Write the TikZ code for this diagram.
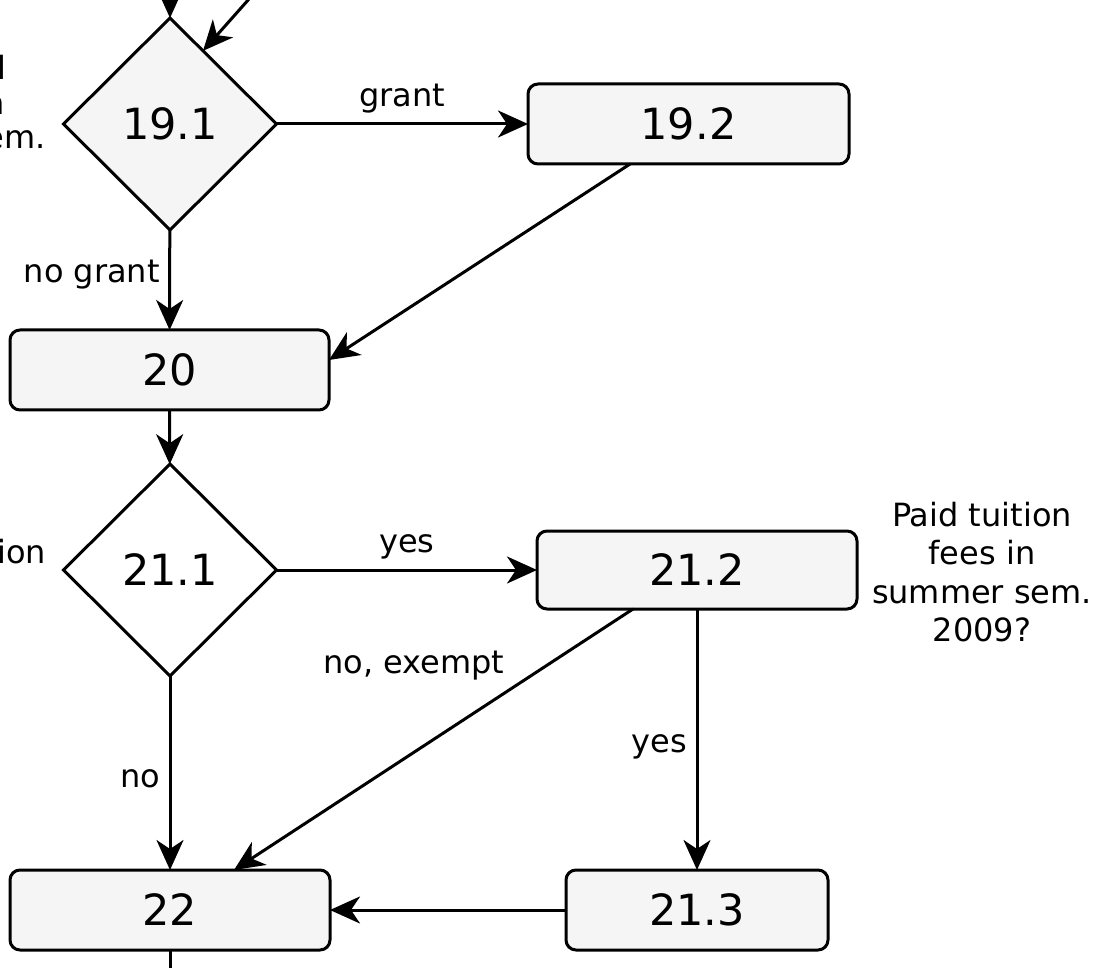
\documentclass[tikz,border=0pt]{standalone}
\usepackage{fontspec}
\setmainfont{DejaVu Sans}
\usetikzlibrary{shapes.geometric,arrows.meta,calc}
\definecolor{boxgray}{HTML}{F5F5F5}
\newcommand\nodefont{\fontsize{43}{50}\selectfont}
\newcommand\labfont{\fontsize{32}{38.3}\selectfont}
\begin{document}
\begin{tikzpicture}[x=1pt,y=-1pt,
  every node/.style={inner sep=0pt, outer sep=0pt},
  proc/.style={draw, rounded corners=10pt, fill=boxgray, line width=3pt, minimum height=80pt, font=\nodefont},
  dec/.style={diamond, draw, line width=3pt, minimum width=213pt, minimum height=212pt, aspect=1, font=\nodefont},
  lbl/.style={font=\labfont},
  conn/.style={line width=3pt, -{Stealth[length=30pt,width=27pt,inset=9pt]}},
  plain/.style={line width=3pt}
]
\useasboundingbox (0,0) rectangle (1104,968);
\clip (0,0) rectangle (1104,968);

% nodes
\node[dec, fill=boxgray] (d191) at (170,124) {19.1};
\node[proc, minimum width=321pt] (b192) at (688.5,124) {19.2};
\node[proc, minimum width=319pt] (b20) at (169.5,370) {20};
\node[dec, fill=white] (d211) at (170,570) {21.1};
\node[proc, minimum width=320pt, minimum height=78pt] (b212) at (697,570) {21.2};
\node[proc, minimum width=262pt] (b213) at (697,910) {21.3};
\node[proc, minimum width=320pt] (b22) at (170,910) {22};

% side texts (cut off at the left edge, as in the reference)
\node[lbl, anchor=base east] (fa) at (6,80) {l};
\node[lbl, anchor=base east] (fb) at (5,115) {n};
\node[lbl, anchor=base east] (fc) at (46,149) {em.};
\node[lbl, anchor=base east] (fd) at (46,563) {ion};
\node[lbl, align=center] (paid) at (982,572) {Paid tuition\\fees in\\summer sem.\\2009?};

% connectors
\coordinate (in1) at (170,-10);
\coordinate (in2) at (257,-10);
\coordinate (out) at (170,985);
\draw[conn] (in1) -- (d191.north);
\draw[conn] (in2) -- ($(d191.north)!0.31!(d191.east)$);
\draw[conn] (d191) -- node[lbl, above=11pt] {grant} (b192);
\draw[conn] (d191) -- node[lbl, pos=0.45, left=10pt] {no grant} (b20);
\draw[conn] ($(b192.south west)!0.318!(b192.south east)$) -- ($(b20.north east)!0.375!(b20.south east)$);
\draw[conn] (b20) -- (d211);
\draw[conn] (d211) -- node[lbl, above=11pt] {yes} (b212);
\draw[conn] (d211) -- node[lbl, pos=0.53, left=10pt] {no} (b22);
\draw[conn] ($(b212.south west)!0.3!(b212.south east)$) -- ($(b22.north west)!0.7!(b22.north east)$);
\node[lbl, anchor=base] (exempt) at (414,673) {no, exempt};
\draw[conn] (b212) -- node[lbl, pos=0.53, left=10pt] {yes} (b213);
\draw[conn] (b213) -- (b22);
\draw[plain] (b22) -- (out);
\end{tikzpicture}
\end{document}
